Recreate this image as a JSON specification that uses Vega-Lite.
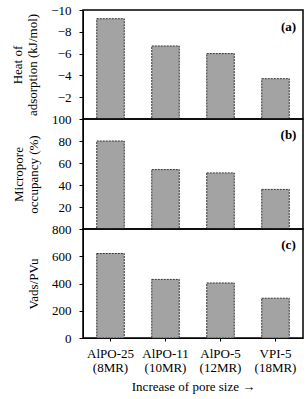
{
  "$schema": "https://vega.github.io/schema/vega-lite/v6.json",
  "padding": {"top": 3, "left": 10, "right": 2, "bottom": 3},
  "spacing": 0,
  "bounds": "flush",
  "config": {
    "font": "Liberation Serif",
    "view": {"stroke": "black", "strokeWidth": 1.5},
    "axis": {"grid": false, "domainColor": "black", "tickColor": "black", "labelColor": "black", "titleColor": "black", "labelFont": "Liberation Serif", "titleFont": "Liberation Serif", "labelFontSize": 13, "titleFontSize": 13, "titleFontWeight": "normal", "labelOverlap": false},
    "bar": {"fill": "#a3a3a3", "stroke": "#333333", "strokeWidth": 1, "strokeDash": [2, 1]}
  },
  "datasets": {
    "zeo": [
      {"material": "AlPO-25|(8MR)", "heat": -9.2, "occupancy": 80, "ratio": 620},
      {"material": "AlPO-11|(10MR)", "heat": -6.7, "occupancy": 54, "ratio": 430},
      {"material": "AlPO-5|(12MR)", "heat": -6.0, "occupancy": 51, "ratio": 404},
      {"material": "VPI-5|(18MR)", "heat": -3.7, "occupancy": 36, "ratio": 292}
    ],
    "labels": [{"a": "(a)", "b": "(b)", "c": "(c)"}]
  },
  "vconcat": [
    {
      "width": 220, "height": 109,
      "layer": [
        {
          "data": {"name": "zeo"},
          "mark": {"type": "bar"},
          "encoding": {
            "x": {"field": "material", "type": "nominal", "sort": null, "axis": null, "scale": {"paddingInner": 0.5, "paddingOuter": 0.25}},
            "y": {"field": "heat", "type": "quantitative", "scale": {"domain": [-10, 0], "reverse": true, "nice": false}, "axis": {"values": [-10, -8, -6, -4, -2], "format": "d", "tickCount": 20, "labelOverlap": false, "tickSize": 4, "labelPadding": 8, "title": ["Heat of", "adsorption (kJ/mol)"], "titlePadding": 11}}
          }
        },
        {
          "data": {"name": "labels"},
          "mark": {"type": "text", "fontWeight": "bold", "fontSize": 13, "dx": 13, "dy": 17},
          "encoding": {
            "x": {"datum": "VPI-5|(18MR)", "type": "nominal"},
            "y": {"datum": -10, "type": "quantitative"},
            "text": {"field": "a"}
          }
        }
      ]
    },
    {
      "width": 220, "height": 110,
      "layer": [
        {
          "data": {"name": "zeo"},
          "mark": {"type": "bar"},
          "encoding": {
            "x": {"field": "material", "type": "nominal", "sort": null, "axis": null, "scale": {"paddingInner": 0.5, "paddingOuter": 0.25}},
            "y": {"field": "occupancy", "type": "quantitative", "scale": {"domain": [0, 100], "nice": false}, "axis": {"values": [20, 40, 60, 80, 100], "format": "d", "tickCount": 20, "labelOverlap": false, "tickSize": 4, "labelPadding": 8, "title": ["Micropore", "occupancy (%)"], "titlePadding": 11}}
          }
        },
        {
          "data": {"name": "labels"},
          "mark": {"type": "text", "fontWeight": "bold", "fontSize": 13, "dx": 13, "dy": 16},
          "encoding": {
            "x": {"datum": "VPI-5|(18MR)", "type": "nominal"},
            "y": {"datum": 100, "type": "quantitative"},
            "text": {"field": "b"}
          }
        }
      ]
    },
    {
      "width": 220, "height": 109,
      "layer": [
        {
          "data": {"name": "zeo"},
          "mark": {"type": "bar"},
          "encoding": {
            "x": {"field": "material", "type": "nominal", "sort": null, "scale": {"paddingInner": 0.5, "paddingOuter": 0.25}, "axis": {"labelAngle": 0, "labelExpr": "split(datum.value, '|')", "labelLineHeight": 14, "tickSize": 3, "labelPadding": 6, "title": "Increase of pore size →", "titlePadding": 6}},
            "y": {"field": "ratio", "type": "quantitative", "scale": {"domain": [0, 800], "nice": false}, "axis": {"values": [0, 200, 400, 600, 800], "format": "d", "tickCount": 20, "labelOverlap": false, "tickSize": 4, "labelPadding": 8, "title": "Vads/PVu", "titlePadding": 11}}
          }
        },
        {
          "data": {"name": "labels"},
          "mark": {"type": "text", "fontWeight": "bold", "fontSize": 13, "dx": 13, "dy": 16},
          "encoding": {
            "x": {"datum": "VPI-5|(18MR)", "type": "nominal"},
            "y": {"datum": 800, "type": "quantitative"},
            "text": {"field": "c"}
          }
        }
      ]
    }
  ]
}
